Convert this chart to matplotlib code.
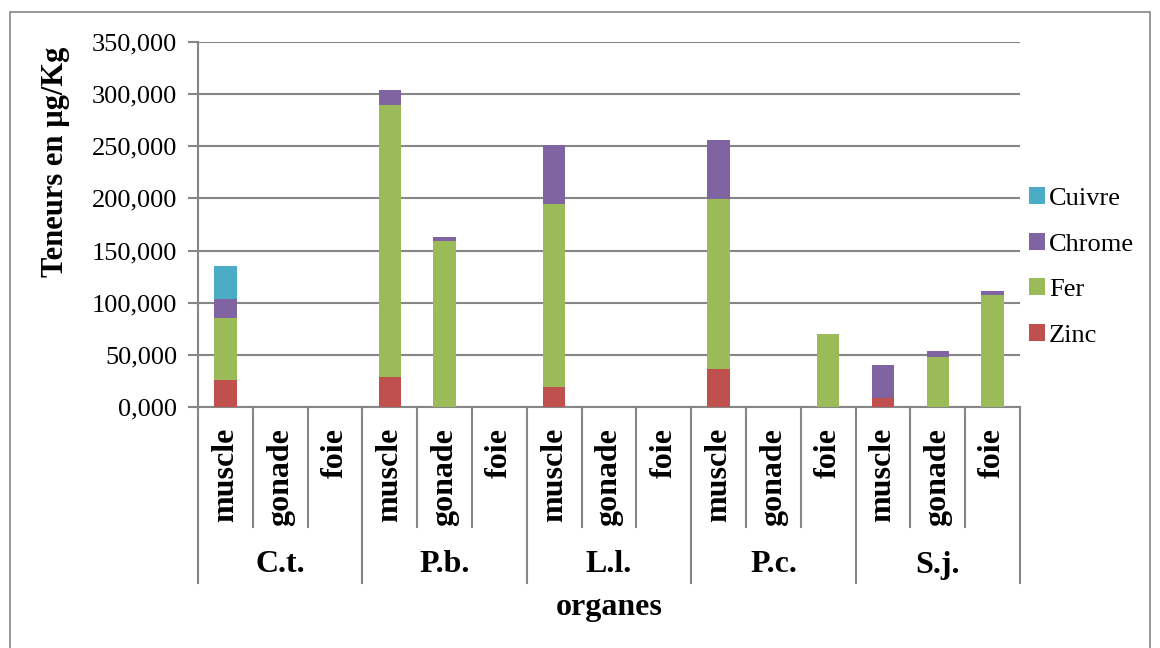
import matplotlib.pyplot as plt
import numpy as np
from matplotlib import ticker
from matplotlib.patches import Rectangle

plt.rcParams["font.family"] = ["Liberation Serif", "DejaVu Serif"]

# Data (µg/Kg)
species = ["C.t.", "P.b.", "L.l.", "P.c.", "S.j."]
organs = ["muscle", "gonade", "foie"]
zinc = [26, 0, 0, 29, 0, 0, 19, 0, 0, 36, 0, 0, 9, 0, 0]
fer = [59, 0, 0, 261, 159, 0, 176, 0, 0, 163, 0, 70, 0, 48, 107]
chrome = [19, 0, 0, 14, 4, 0, 56, 0, 0, 57, 0, 0, 31, 6, 4]
cuivre = [31, 0, 0, 0, 0, 0, 0, 0, 0, 0, 0, 0, 0, 0, 0]

series = [("Zinc", zinc, "#C0504D"), ("Fer", fer, "#9BBB59"),
          ("Chrome", chrome, "#8064A2"), ("Cuivre", cuivre, "#4BACC6")]

grid_col = "#868686"

fig = plt.figure(figsize=(11.6, 6.48), dpi=100)
ax = fig.add_axes([198 / 1160, 1 - 407 / 648, 822 / 1160, 365 / 648])

# outer chart border
fig.patches.append(Rectangle((10 / 1160, -0.01), 1140 / 1160, 1 - 12 / 648 + 0.01,
                             transform=fig.transFigure, fill=False,
                             edgecolor=grid_col, linewidth=1.2))

x = np.arange(len(zinc))
bottom = np.zeros(len(x))
handles = []
for name, vals, col in series:
    vals = np.array(vals, dtype=float)
    b = ax.bar(x, vals, bottom=bottom, width=0.41, color=col, label=name,
               zorder=3)
    bottom += vals
    handles.append(b)

ax.set_xlim(-0.5, len(x) - 0.5)
ax.set_ylim(0, 350)
ax.yaxis.set_major_locator(ticker.MultipleLocator(50))
ax.yaxis.set_major_formatter(
    ticker.FuncFormatter(lambda v, p: ("%.3f" % v).replace(".", ",")))
ax.grid(axis="y", color=grid_col, linewidth=1.5, zorder=0)
ax.tick_params(axis="y", labelsize=19, length=7, color=grid_col, width=1.5,
               direction="out", pad=8)
ax.set_xticks([])
for s in ["top", "right"]:
    ax.spines[s].set_visible(False)
for s in ["left", "bottom"]:
    ax.spines[s].set_color(grid_col)
    ax.spines[s].set_linewidth(1.5)

# multi-level category axis
trans = ax.get_xaxis_transform()
for k in range(len(x) + 1):
    xb = k - 0.5
    depth = -176 / 365 if k % 3 == 0 else -120 / 365
    ax.plot([xb, xb], [0, depth], color=grid_col, linewidth=1.5,
            transform=trans, clip_on=False)
for i in x:
    ax.text(i, -21 / 365, organs[i % 3], rotation=90, ha="center", va="top",
            fontsize=23, fontweight="bold", transform=trans)
for j, sp in enumerate(species):
    ax.text(3 * j + 1, -158 / 365, sp, ha="center", va="center",
            fontsize=23, fontweight="bold", transform=trans)
ax.text(0.5, -200 / 365, "organes", ha="center", va="center", fontsize=23,
        fontweight="bold", transform=ax.transAxes)

fig.text(55 / 1160, 1 - 162 / 648, "Teneurs en µg/Kg", rotation=90,
         ha="center", va="center", fontsize=22, fontweight="bold")

ax.legend(handles[::-1], [s[0] for s in series][::-1],
          loc="center left", bbox_to_anchor=(1029 / 1160, 1 - 267 / 648),
          bbox_transform=fig.transFigure, frameon=False, fontsize=19,
          handlelength=0.6, handleheight=0.6, handletextpad=0.15,
          labelspacing=0.87, borderaxespad=0, borderpad=0)

fig.savefig("out.png", dpi=100)
